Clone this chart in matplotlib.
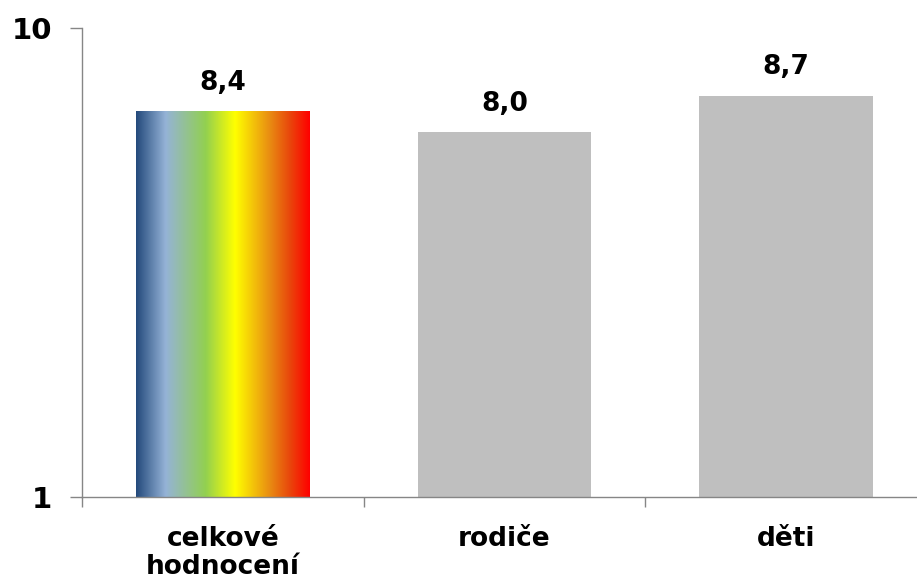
import numpy as np
import matplotlib
matplotlib.use('Agg')
import matplotlib.pyplot as plt
from matplotlib.colors import LinearSegmentedColormap

categories = ['celkové\nhodnocení', 'rodiče', 'děti']
values = [8.4, 8.0, 8.7]
value_labels = ['8,4', '8,0', '8,7']
y_ticks = [1, 10]

grey = '#bfbfbf'
axis_col = '#868686'
rainbow = LinearSegmentedColormap.from_list(
    'rainbow_bar',
    [(0.0, '#244a7c'), (0.17, '#95b3d7'), (0.40, '#92d050'),
     (0.57, '#ffff00'), (0.77, '#e98c12'), (0.88, '#e84a0c'),
     (1.0, '#ff0000')])

plt.rcParams['font.family'] = ['DejaVu Sans']
plt.rcParams['font.weight'] = 'bold'

fig = plt.figure(figsize=(9.17, 5.81), dpi=100)
ax = fig.add_axes([82 / 917, 1 - 497 / 581, 1 - 82 / 917, (497 - 28) / 581])

x = np.arange(len(categories))
width = 0.617
bars = ax.bar(x, [v - 1 for v in values], width, bottom=1, color=grey,
              zorder=2)

# gradient fill for the first bar
b0 = bars[0]
b0.set_facecolor('none')
x0, y0 = b0.get_x(), b0.get_y()
grad = np.linspace(0, 1, 256).reshape(1, -1)
im = ax.imshow(grad, cmap=rainbow, aspect='auto', zorder=2,
               extent=[x0, x0 + b0.get_width(), y0, y0 + b0.get_height()])
im.set_clip_path(b0)

for xi, v, lab in zip(x, values, value_labels):
    ax.annotate(lab, (xi, v), xytext=(0, 11), textcoords='offset points',
                ha='center', va='bottom', fontsize=19, fontweight='bold')

ax.set_ylim(1, 10)
ax.set_xlim(-0.5, 2.5 - 10 / 282)
ax.set_yticks(y_ticks)
ax.set_yticklabels([str(t) for t in y_ticks], fontsize=21, fontweight='bold')
ax.tick_params(axis='y', length=8.6, width=1, color=axis_col, pad=13)

ax.set_xticks(x)
ax.set_xticklabels(categories, fontsize=19, fontweight='bold',
                   linespacing=1.08)
ax.set_xticks(np.arange(len(categories)) - 0.5, minor=True)
ax.tick_params(axis='x', which='major', length=0, pad=21)
ax.tick_params(axis='x', which='minor', length=7.2, width=1, color=axis_col)

for side in ['top', 'right']:
    ax.spines[side].set_visible(False)
for side in ['left', 'bottom']:
    ax.spines[side].set_color(axis_col)
    ax.spines[side].set_linewidth(1)

fig.savefig('out.png', dpi=100)
